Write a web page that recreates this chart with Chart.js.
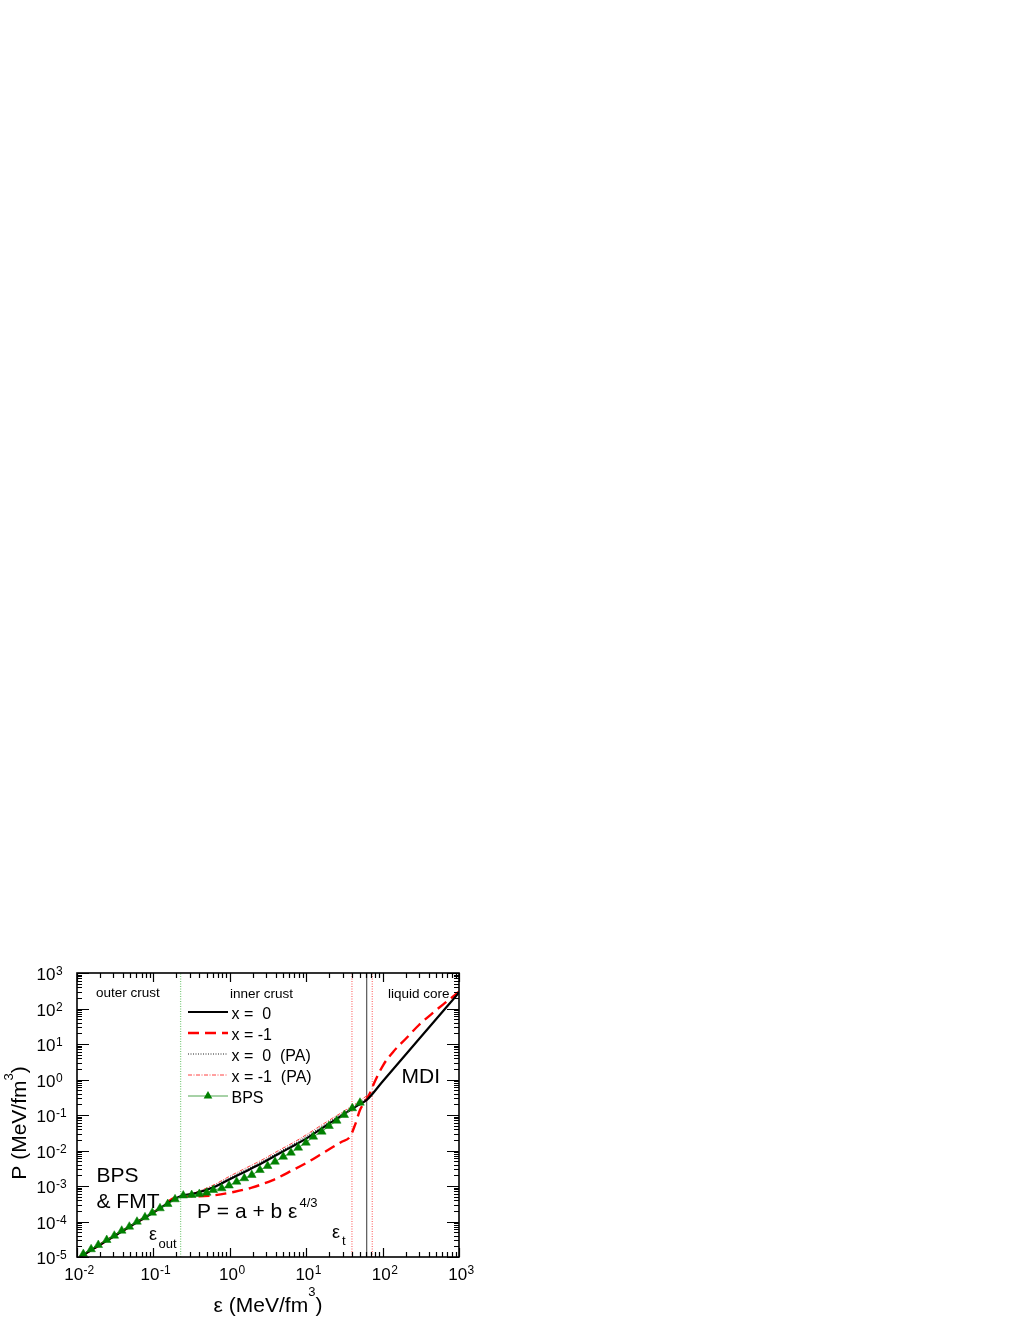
<!DOCTYPE html>
<html>
<head>
<meta charset="utf-8">
<title>P vs energy density</title>
<script src="https://cdn.jsdelivr.net/npm/chart.js@4.4.0/dist/chart.umd.min.js"></script>
<style>
  html, body { margin: 0; padding: 0; background: #fff; }
  canvas { display: block; }
</style>
</head>
<body>
<canvas id="eosChart" width="1020" height="1320" style="width:1020px;height:1320px"></canvas>
<script>
// values (epsilon in MeV/fm^3, P in MeV/fm^3)

const xTickExps = ['-2', '-1', '0', '1', '2', '3'];
const yTickExps = ['-5', '-4', '-3', '-2', '-1', '0', '1', '2', '3'];

// x = 0 (solid black)
const epsX0 = [0.0109, 0.048, 0.1, 0.23, 0.351, 0.64, 0.955, 1.58, 2.62, 4.32, 7.13, 9.64, 17.6, 48, 62, 100, 300, 1000];
const presX0 = [1.0e-5, 7.0e-5, 1.8e-4, 5.2e-4, 6.2e-4, 9.5e-4, 1.48e-3, 2.53e-3, 4.36e-3, 7.96e-3, 0.0143, 0.0206, 0.048, 0.19, 0.265, 0.88, 13.8, 280];

// x = -1 (red dashed)
const epsX1 = [0.0109, 0.048, 0.1, 0.23, 0.40, 0.64, 1.16, 1.94, 3.6, 6.46, 10.7, 17.6, 29.2, 37.4, 43.5, 50.6, 58.9, 68.4, 75.5, 102, 138, 207, 299, 447, 622, 887, 1000];
const presX1 = [1.0e-5, 7.0e-5, 1.8e-4, 5.2e-4, 5.15e-4, 5.5e-4, 6.9e-4, 9.0e-4, 1.45e-3, 2.7e-3, 4.8e-3, 9.2e-3, 0.0177, 0.0245, 0.052, 0.138, 0.237, 0.417, 0.70, 2.56, 6.07, 15.0, 34.3, 73, 131, 240, 300];

// x = 0 (PA), black dotted
const epsPA0 = [0.23, 0.351, 0.64, 0.955, 1.58, 2.62, 4.32, 7.13, 17.6, 48, 60];
const presPA0 = [5.2e-4, 6.4e-4, 1.03e-3, 1.63e-3, 2.8e-3, 4.85e-3, 8.9e-3, 0.016, 0.054, 0.212, 0.28];

// x = -1 (PA), red dash-dot
const epsPA1 = [0.23, 0.351, 0.64, 0.955, 1.58, 2.62, 4.32, 7.13, 17.6, 48, 70];
const presPA1 = [5.2e-4, 6.6e-4, 1.12e-3, 1.8e-3, 3.12e-3, 5.4e-3, 9.9e-3, 0.0178, 0.060, 0.235, 0.42];

// BPS table (green triangles)
const bpsEps = [0.0121, 0.0153, 0.0190, 0.0245, 0.0308, 0.0385, 0.0484, 0.0610, 0.0776, 0.0967,
  0.122, 0.154, 0.192, 0.246, 0.317, 0.399, 0.499, 0.608, 0.784, 0.977,
  1.23, 1.55, 1.94, 2.48, 3.13, 3.91, 5.01, 6.32, 7.88, 9.94,
  12.4, 16.0, 19.9, 25.1, 31.5, 40.1, 50.6];
const bpsP = [1.21e-5, 1.65e-5, 2.18e-5, 3.01e-5, 3.98e-5, 5.51e-5, 7.14e-5, 9.86e-5, 1.31e-4, 1.77e-4,
  2.35e-4, 3.11e-4, 4.22e-4, 5.39e-4, 5.57e-4, 5.96e-4, 6.47e-4, 7.71e-4, 8.61e-4, 1.03e-3,
  1.32e-3, 1.65e-3, 2.04e-3, 2.82e-3, 3.66e-3, 4.84e-3, 6.68e-3, 8.67e-3, 0.0120, 0.0166,
  0.0245, 0.0339, 0.0490, 0.0690, 0.100, 0.155, 0.222];

// vertical markers: eps_out, eps_t (x=-1), eps_t (x=0), eps_t (x=-1, PA)
const vlineEps = [0.227, 39.7, 62, 73.3];
const vlineColors = ['#7fcc7f', '#ff7a7a', '#333333', '#ff7a7a'];

const legendLabels = ['x =  0', 'x = -1', 'x =  0  (PA)', 'x = -1  (PA)', 'BPS'];

const FONT = '"Liberation Sans", Arial, Helvetica, sans-serif';

function pts(xs, ys) {
  return xs.map((v, i) => ({ x: v, y: ys[i] }));
}

function vline(v, color, i) {
  return {
    data: [{ x: v, y: 1e-5 }, { x: v, y: 1e3 }],
    borderColor: color,
    borderWidth: i === 2 ? 1 : 1.3,
    borderDash: i === 2 ? [] : [1, 1.5],
    pointRadius: 0,
    tension: 0,
    order: 10
  };
}

function drawPow(ctx, x, y, exp, big, small, rise) {
  ctx.font = big + 'px ' + FONT;
  ctx.fillText('10', x, y);
  const w = ctx.measureText('10').width;
  ctx.font = small + 'px ' + FONT;
  ctx.fillText(exp, x + w + 0.5, y - rise);
}

const framePlugin = {
  id: 'frame',
  afterDraw(chart) {
    const { ctx, chartArea: a, scales } = chart;
    const xs = scales.x, ys = scales.y;
    ctx.save();
    ctx.fillStyle = '#000';
    ctx.strokeStyle = '#000';

    // ticks, inward on all four sides
    ctx.lineWidth = 1.2;
    ctx.beginPath();
    for (let d = -2; d <= 3; d++) {
      for (let m = 1; m <= 9; m++) {
        const v = m * Math.pow(10, d);
        if (v > 1000.001) break;
        const px = Math.round(xs.getPixelForValue(v)) + 0.5;
        const len = m === 1 ? 9 : 5;
        ctx.moveTo(px, a.bottom); ctx.lineTo(px, a.bottom - len);
        ctx.moveTo(px, a.top); ctx.lineTo(px, a.top + len);
      }
    }
    for (let d = -5; d <= 3; d++) {
      for (let m = 1; m <= 9; m++) {
        const v = m * Math.pow(10, d);
        if (v > 1000.001) break;
        const py = Math.round(ys.getPixelForValue(v)) + 0.5;
        const len = m === 1 ? 12 : 5;
        ctx.moveTo(a.left, py); ctx.lineTo(a.left + len, py);
        ctx.moveTo(a.right, py); ctx.lineTo(a.right - len, py);
      }
    }
    ctx.stroke();

    // frame
    ctx.lineWidth = 1.6;
    ctx.strokeRect(a.left, a.top, a.right - a.left, a.bottom - a.top);

    // tick labels
    ctx.textBaseline = 'alphabetic';
    ctx.textAlign = 'left';
    xTickExps.forEach(e => {
      const px = xs.getPixelForValue(Math.pow(10, +e));
      ctx.font = '17px ' + FONT;
      const w10 = ctx.measureText('10').width;
      ctx.font = '12px ' + FONT;
      const we = ctx.measureText(e).width;
      drawPow(ctx, px - (w10 + we) / 2 + 2, 1280, e, 17, 12, 6);
    });
    yTickExps.forEach(e => {
      const py = ys.getPixelForValue(Math.pow(10, +e));
      ctx.font = '17px ' + FONT;
      const w10 = ctx.measureText('10').width;
      drawPow(ctx, 55.5 - w10, py + 7, e, 17, 12, 5);
    });

    // axis titles
    ctx.font = '21px ' + FONT;
    let t1 = 'ε (MeV/fm';
    let w1 = ctx.measureText(t1).width;
    ctx.font = '13px ' + FONT;
    const w3 = ctx.measureText('3').width;
    ctx.font = '21px ' + FONT;
    const wp = ctx.measureText(')').width;
    let start = 268 - (w1 + w3 + wp) / 2;
    ctx.fillText(t1, start, 1312);
    ctx.font = '13px ' + FONT;
    ctx.fillText('3', start + w1, 1296);
    ctx.font = '21px ' + FONT;
    ctx.fillText(')', start + w1 + w3, 1312);

    ctx.save();
    ctx.translate(26, 1123);
    ctx.rotate(-Math.PI / 2);
    t1 = 'P (MeV/fm';
    w1 = ctx.measureText(t1).width;
    start = -(w1 + w3 + wp) / 2;
    ctx.fillText(t1, start, 0);
    ctx.font = '13px ' + FONT;
    ctx.fillText('3', start + w1, -13);
    ctx.font = '21px ' + FONT;
    ctx.fillText(')', start + w1 + w3, 0);
    ctx.restore();

    // region labels
    ctx.font = '13.5px ' + FONT;
    ctx.fillText('outer crust', 96, 997);
    ctx.fillText('inner crust', 230, 997.5);
    ctx.fillText('liquid core', 388, 997.5);

    // annotations
    ctx.font = '21px ' + FONT;
    ctx.fillText('BPS', 96.5, 1182);
    ctx.fillText('& FMT', 96.5, 1208);
    ctx.fillText('MDI', 401.5, 1083);
    const pa = 'P = a + b ε';
    ctx.fillText(pa, 197, 1218);
    const wpa = ctx.measureText(pa).width;
    ctx.font = '13px ' + FONT;
    ctx.fillText('4/3', 197 + wpa + 2, 1207);

    ctx.font = '18px ' + FONT;
    ctx.fillText('ε', 149, 1240);
    ctx.fillText('ε', 332, 1238);
    ctx.font = '13px ' + FONT;
    ctx.fillText('out', 158.5, 1248);
    ctx.fillText('t', 342, 1245);

    // legend
    const lx0 = 188, lx1 = 228, tx = 231.5;
    const rows = [1018.5, 1039.5, 1060.5, 1081.5, 1102.5];
    const styles = [
      { c: '#000', w: 2.2, d: [] },
      { c: '#ff0000', w: 2.4, d: [11, 6] },
      { c: '#202020', w: 1, d: [1, 1.5] },
      { c: '#ff4040', w: 1, d: [4, 1.5, 1, 1.5] },
      { c: '#3a9a3a', w: 0.9, d: [] }
    ];
    rows.forEach((yb, i) => {
      const ly = yb - 6.5;
      const s = styles[i];
      ctx.strokeStyle = s.c;
      ctx.lineWidth = s.w;
      ctx.setLineDash(s.d);
      ctx.beginPath();
      ctx.moveTo(lx0, ly); ctx.lineTo(lx1, ly);
      ctx.stroke();
      ctx.setLineDash([]);
      if (i === 4) {
        const cx = (lx0 + lx1) / 2, r = 5;
        ctx.fillStyle = '#008000';
        ctx.beginPath();
        ctx.moveTo(cx, ly - r);
        ctx.lineTo(cx + r * 0.866, ly + r / 2);
        ctx.lineTo(cx - r * 0.866, ly + r / 2);
        ctx.closePath();
        ctx.fill();
      }
      ctx.fillStyle = '#000';
      ctx.font = '16px ' + FONT;
      ctx.fillText(legendLabels[i], tx, yb);
    });

    ctx.restore();
  }
};

const datasets = [
  {
    label: 'BPS',
    data: pts(bpsEps, bpsP),
    showLine: true,
    borderColor: '#3a9a3a',
    borderWidth: 0.9,
    pointStyle: 'triangle',
    pointRadius: 5,
    pointBackgroundColor: '#008000',
    pointBorderColor: '#008000',
    pointBorderWidth: 0.5,
    tension: 0,
    order: 0
  },
  {
    label: 'x = 0',
    data: pts(epsX0, presX0),
    borderColor: '#000',
    borderWidth: 2.2,
    pointRadius: 0,
    cubicInterpolationMode: 'monotone',
    order: 1
  },
  {
    label: 'x = -1',
    data: pts(epsX1, presX1),
    borderColor: '#ff0000',
    borderWidth: 2.4,
    borderDash: [11, 6],
    pointRadius: 0,
    cubicInterpolationMode: 'monotone',
    order: 2
  },
  {
    label: 'x = 0 (PA)',
    data: pts(epsPA0, presPA0),
    borderColor: '#202020',
    borderWidth: 1,
    borderDash: [1, 1.5],
    pointRadius: 0,
    cubicInterpolationMode: 'monotone',
    order: 3
  },
  {
    label: 'x = -1 (PA)',
    data: pts(epsPA1, presPA1),
    borderColor: '#ff4040',
    borderWidth: 1,
    borderDash: [4, 1.5, 1, 1.5],
    pointRadius: 0,
    cubicInterpolationMode: 'monotone',
    order: 4
  }
].concat(vlineEps.map((v, i) => vline(v, vlineColors[i], i)));

new Chart(document.getElementById('eosChart'), {
  type: 'line',
  data: { datasets },
  options: {
    responsive: false,
    animation: false,
    devicePixelRatio: 1,
    layout: { padding: { left: 77, top: 973, right: 1020 - 459, bottom: 1320 - 1257 } },
    plugins: { legend: { display: false }, tooltip: { enabled: false } },
    elements: { line: { fill: false } },
    scales: {
      x: { type: 'logarithmic', min: 0.01, max: 1000, display: false },
      y: { type: 'logarithmic', min: 1e-5, max: 1000, display: false }
    }
  },
  plugins: [framePlugin]
});
</script>
</body>
</html>
